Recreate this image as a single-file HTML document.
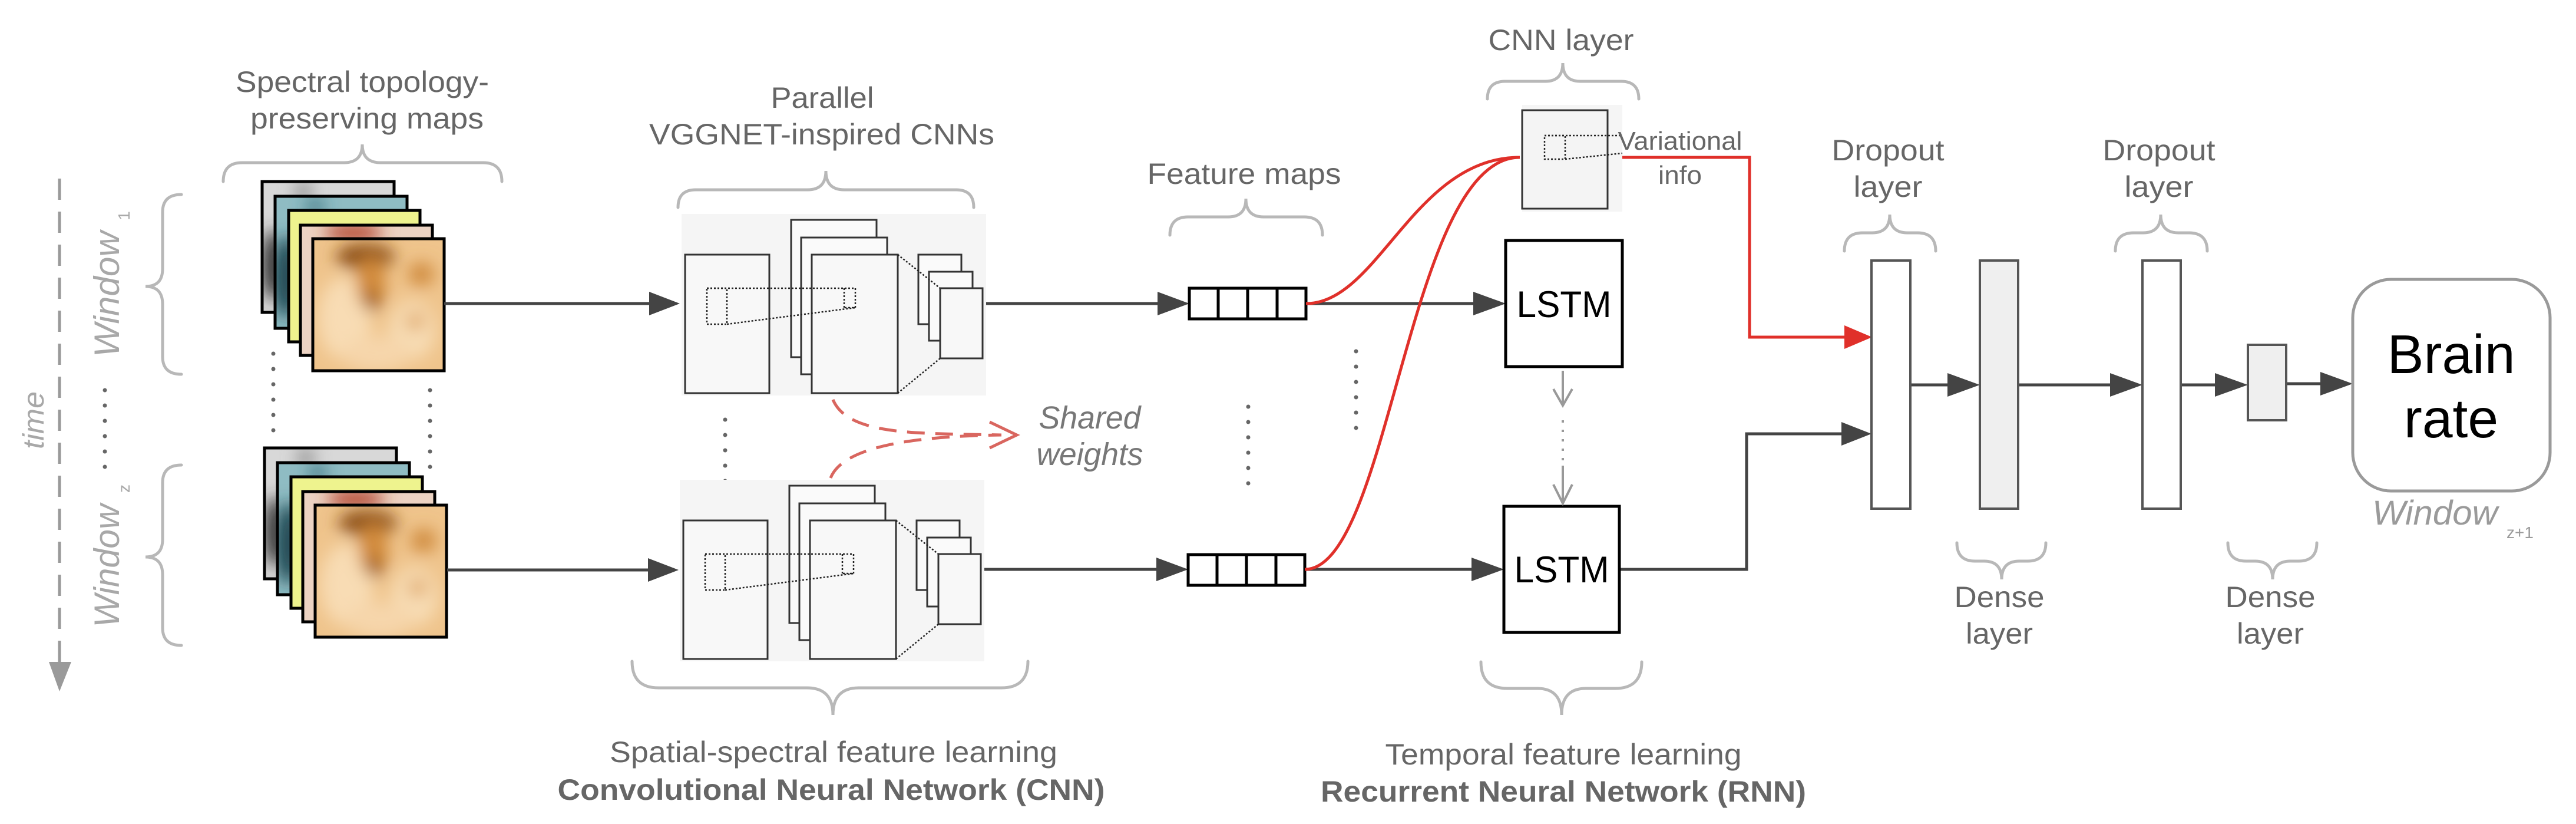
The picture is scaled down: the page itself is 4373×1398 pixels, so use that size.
<!DOCTYPE html>
<html><head><meta charset="utf-8"><style>
html,body{margin:0;padding:0;background:#fff;}
svg{display:block;}
text{font-family:"Liberation Sans",Arial,sans-serif;}
</style></head><body>
<svg width="4373" height="1398" viewBox="0 0 4373 1398" xmlns="http://www.w3.org/2000/svg">
<defs>
<filter id="bl" x="-50%" y="-50%" width="200%" height="200%"><feGaussianBlur stdDeviation="14"/></filter>
<clipPath id="cf"><rect x="531" y="405" width="223" height="224"/></clipPath>
<clipPath id="cg"><rect x="445" y="308" width="224" height="222"/></clipPath>
<clipPath id="ct"><rect x="467" y="333" width="224" height="224"/></clipPath>
<clipPath id="cp"><rect x="510" y="382" width="224" height="221"/></clipPath>
<clipPath id="cy"><rect x="490" y="357" width="223" height="223"/></clipPath>
<g id="stack">
  <rect x="445" y="308" width="224" height="222" fill="#d8d8d8"/>
  <g clip-path="url(#cg)" filter="url(#bl)"><ellipse cx="465" cy="450" rx="20" ry="60" fill="#333"/><ellipse cx="515" cy="325" rx="15" ry="15" fill="#888"/></g>
  <rect x="445" y="308" width="224" height="222" fill="none" stroke="#000" stroke-width="5"/>
  <rect x="467" y="333" width="224" height="224" fill="#8fbcc3"/>
  <g clip-path="url(#ct)" filter="url(#bl)"><ellipse cx="485" cy="470" rx="22" ry="70" fill="#1d4550"/><ellipse cx="535" cy="350" rx="15" ry="12" fill="#2e6672"/></g>
  <rect x="467" y="333" width="224" height="224" fill="none" stroke="#000" stroke-width="5"/>
  <rect x="490" y="357" width="223" height="223" fill="#eef38e" stroke="#000" stroke-width="5"/>
  <rect x="510" y="382" width="224" height="221" fill="#ecd3c3"/>
  <g clip-path="url(#cp)" filter="url(#bl)"><ellipse cx="600" cy="395" rx="50" ry="15" fill="#b0402a"/></g>
  <rect x="510" y="382" width="224" height="221" fill="none" stroke="#000" stroke-width="5"/>
  <rect x="531" y="405" width="223" height="224" fill="#efc48c"/>
  <g clip-path="url(#cf)" filter="url(#bl)">
    <ellipse cx="585" cy="540" rx="45" ry="70" fill="#f8dcb4"/>
    <ellipse cx="700" cy="560" rx="40" ry="50" fill="#f7dcb4"/>
    <ellipse cx="640" cy="600" rx="60" ry="30" fill="#f6d6ab"/>
    <ellipse cx="620" cy="435" rx="50" ry="22" fill="#8a4d12"/>
    <ellipse cx="630" cy="480" rx="25" ry="45" fill="#d28a3a"/>
    <ellipse cx="632" cy="510" rx="14" ry="18" fill="#9c5a18"/>
    <ellipse cx="715" cy="465" rx="22" ry="20" fill="#cf8a3c"/>
    <ellipse cx="705" cy="545" rx="16" ry="14" fill="#dfa461"/>
  </g>
  <rect x="531" y="405" width="223" height="224" fill="none" stroke="#000" stroke-width="5"/>
</g>
<g id="cnn">
  <rect x="1157" y="363" width="517" height="308" fill="#f5f5f5"/>
  <rect x="1163" y="432" width="143" height="235" fill="#f8f8f8" stroke="#333" stroke-width="3"/>
  <rect x="1343" y="373" width="145" height="233" fill="#fafafa" stroke="#333" stroke-width="3"/>
  <rect x="1360" y="403" width="146" height="232" fill="#fafafa" stroke="#333" stroke-width="3"/>
  <rect x="1378" y="432" width="146" height="235" fill="#f8f8f8" stroke="#333" stroke-width="3"/>
  <rect x="1559" y="432" width="73" height="118" fill="#fafafa" stroke="#333" stroke-width="3"/>
  <rect x="1577" y="461" width="74" height="117" fill="#fafafa" stroke="#333" stroke-width="3"/>
  <rect x="1596" y="489" width="72" height="119" fill="#f8f8f8" stroke="#333" stroke-width="3"/>
  <g fill="none" stroke="#222" stroke-width="2.5" stroke-dasharray="3 3">
    <rect x="1200" y="489" width="34" height="61"/>
    <path d="M1200,489 H1452 V522 H1433 M1234,550 L1452,522 M1433,489 V522"/>
    <path d="M1524,432 L1596,489 M1524,667 L1596,608"/>
  </g>
</g>
<g id="fm">
  <rect x="2019" y="489" width="198" height="52" fill="#fff" stroke="#000" stroke-width="5"/>
  <path d="M2068,489V541M2118,489V541M2168,489V541" stroke="#000" stroke-width="5"/>
</g>
</defs>

<!-- time axis -->
<line x1="101" y1="303" x2="101" y2="1125" stroke="#9a9a9a" stroke-width="5" stroke-dasharray="36 20"/>
<polygon points="83,1123 121,1123 101,1173" fill="#9a9a9a"/>
<text transform="translate(74,713) rotate(-90)" font-size="50" font-style="italic" fill="#a8a8a8" text-anchor="middle" textLength="98" lengthAdjust="spacingAndGlyphs">time</text>
<g fill="#666">
<circle cx="178" cy="662" r="3.5"/><circle cx="178" cy="688" r="3.5"/><circle cx="178" cy="714" r="3.5"/><circle cx="178" cy="740" r="3.5"/><circle cx="178" cy="766" r="3.5"/><circle cx="178" cy="792" r="3.5"/>
<circle cx="464" cy="600" r="3.5"/><circle cx="464" cy="626" r="3.5"/><circle cx="464" cy="652" r="3.5"/><circle cx="464" cy="678" r="3.5"/><circle cx="464" cy="704" r="3.5"/><circle cx="464" cy="730" r="3.5"/>
<circle cx="730" cy="662" r="3.5"/><circle cx="730" cy="688" r="3.5"/><circle cx="730" cy="714" r="3.5"/><circle cx="730" cy="740" r="3.5"/><circle cx="730" cy="766" r="3.5"/><circle cx="730" cy="792" r="3.5"/>
<circle cx="1231" cy="712" r="3.5"/><circle cx="1231" cy="738" r="3.5"/><circle cx="1231" cy="764" r="3.5"/><circle cx="1231" cy="790" r="3.5"/><circle cx="1231" cy="816" r="3.5"/><circle cx="1231" cy="842" r="3.5"/>
<circle cx="2119" cy="690" r="3.5"/><circle cx="2119" cy="716" r="3.5"/><circle cx="2119" cy="742" r="3.5"/><circle cx="2119" cy="768" r="3.5"/><circle cx="2119" cy="794" r="3.5"/><circle cx="2119" cy="820" r="3.5"/>
<circle cx="2302" cy="596" r="3.5"/><circle cx="2302" cy="622" r="3.5"/><circle cx="2302" cy="648" r="3.5"/><circle cx="2302" cy="674" r="3.5"/><circle cx="2302" cy="700" r="3.5"/><circle cx="2302" cy="726" r="3.5"/>
</g>

<!-- window labels -->
<text transform="translate(202,499) rotate(-90)" font-size="60" font-style="italic" fill="#a8a8a8" text-anchor="middle" textLength="214" lengthAdjust="spacingAndGlyphs">Window</text>
<text transform="translate(220,366) rotate(-90)" font-size="28" fill="#a8a8a8" text-anchor="middle">1</text>
<text transform="translate(202,960) rotate(-90)" font-size="60" font-style="italic" fill="#a8a8a8" text-anchor="middle" textLength="209" lengthAdjust="spacingAndGlyphs">Window</text>
<text transform="translate(220,829) rotate(-90)" font-size="28" fill="#a8a8a8" text-anchor="middle">z</text>

<!-- braces -->
<g fill="none" stroke="#b8b8b8" stroke-width="5" stroke-linecap="round">
<path d="M308,330 Q276,330 276,360 L276,456 Q276,486 247,486 Q276,486 276,516 L276,605 Q276,635 308,635"/>
<path d="M308,789 Q276,789 276,819 L276,915 Q276,945 247,945 Q276,945 276,975 L276,1065 Q276,1095 308,1095"/>
<path d="M379,308 Q379,276 411,276 L584,276 Q615,276 615,245 Q615,276 646,276 L820,276 Q852,276 852,308"/>
<path d="M1151,352 Q1151,322 1181,322 L1371,322 Q1402,322 1402,290 Q1402,322 1433,322 L1623,322 Q1653,322 1653,352"/>
<path d="M1073,1122 Q1073,1167 1118,1167 L1370,1167 Q1414,1167 1414,1213 Q1414,1167 1458,1167 L1700,1167 Q1745,1167 1745,1122"/>
<path d="M1986,399 Q1986,368 2017,368 L2085,368 Q2115,368 2115,337 Q2115,368 2145,368 L2214,368 Q2245,368 2245,399"/>
<path d="M2525,168 Q2525,138 2555,138 L2623,138 Q2653,138 2653,107 Q2653,138 2683,138 L2752,138 Q2782,138 2782,168"/>
<path d="M2514,1123 Q2514,1168 2559,1168 L2610,1168 Q2651,1168 2651,1213 Q2651,1168 2692,1168 L2742,1168 Q2787,1168 2787,1123"/>
<path d="M3131,426 Q3131,395 3162,395 L3178,395 Q3208,395 3208,364 Q3208,395 3238,395 L3255,395 Q3286,395 3286,426"/>
<path d="M3591,426 Q3591,395 3622,395 L3638,395 Q3668,395 3668,364 Q3668,395 3698,395 L3716,395 Q3747,395 3747,426"/>
<path d="M3322,921 Q3322,952 3353,952 L3368,952 Q3398,952 3398,983 Q3398,952 3428,952 L3442,952 Q3473,952 3473,921"/>
<path d="M3782,921 Q3782,952 3813,952 L3828,952 Q3858,952 3858,983 Q3858,952 3888,952 L3902,952 Q3933,952 3933,921"/>
</g>

<!-- stacks -->
<use href="#stack"/>
<use href="#stack" transform="translate(4,452)"/>

<!-- cnn blocks -->
<use href="#cnn"/>
<use href="#cnn" transform="translate(-3,451)"/>

<!-- dark connectors -->
<g stroke="#444" stroke-width="5" fill="none">
<path d="M754,515 H1105"/>
<path d="M759,967 H1102"/>
<path d="M1674,515 H1967"/>
<path d="M1671,966 H1965"/>
<path d="M2217,515 H2503"/>
<path d="M2215,966 H2500"/>
<path d="M2749,966 H2965 V736 H3128"/>
<path d="M3243,653 H3308"/>
<path d="M3426,653 H3584"/>
<path d="M3702,653 H3762"/>
<path d="M3881,651 H3941"/>
</g>
<g fill="#444">
<polygon points="1102,495 1154,515 1102,535"/>
<polygon points="1100,947 1152,967 1100,987"/>
<polygon points="1965,495 2019,515 1965,535"/>
<polygon points="1963,946 2017,966 1963,986"/>
<polygon points="2501,495 2556,515 2501,535"/>
<polygon points="2498,946 2553,966 2498,986"/>
<polygon points="3126,716 3177,736 3126,756"/>
<polygon points="3306,633 3361,653 3306,673"/>
<polygon points="3582,633 3637,653 3582,673"/>
<polygon points="3760,633 3816,653 3760,673"/>
<polygon points="3939,631 3994,651 3939,671"/>
</g>

<!-- feature maps -->
<use href="#fm"/>
<use href="#fm" transform="translate(-2,452)"/>

<!-- shared weights -->
<g fill="none" stroke="#d9665f" stroke-width="5">
<path d="M1414,678 C1440,740 1560,735 1700,738" stroke-dasharray="30 18"/>
<path d="M1410,811 C1430,760 1540,740 1700,738" stroke-dasharray="30 18"/>
<path d="M1680,716 L1726,738 L1680,760"/>
</g>
<text x="1850" y="727" font-size="54" font-style="italic" fill="#777" text-anchor="middle" textLength="173" lengthAdjust="spacingAndGlyphs">Shared</text>
<text x="1850" y="789" font-size="54" font-style="italic" fill="#777" text-anchor="middle" textLength="181" lengthAdjust="spacingAndGlyphs">weights</text>

<!-- CNN layer box -->
<rect x="2584" y="178" width="170" height="181" fill="#f5f5f5"/>
<rect x="2584" y="187" width="145" height="167" fill="#f4f4f4" stroke="#333" stroke-width="3"/>
<g fill="none" stroke="#222" stroke-width="2.5" stroke-dasharray="3 3">
<rect x="2622" y="230" width="35" height="40"/>
<path d="M2622,230 H2754 M2657,270 L2754,260"/>
</g>

<!-- red connectors -->
<g fill="none" stroke="#e0302a" stroke-width="5">
<path d="M2217,515 C2340,515 2400,267 2580,267"/>
<path d="M2215,966 C2360,966 2390,267 2580,267"/>
<path d="M2754,267 H2970 V572 H3133"/>
</g>
<polygon points="3131,552 3178,572 3131,592" fill="#e0302a"/>

<!-- LSTM -->
<rect x="2556" y="408" width="198" height="214" fill="#fff" stroke="#000" stroke-width="5"/>
<rect x="2553" y="859" width="196" height="214" fill="#fff" stroke="#000" stroke-width="5"/>
<text x="2655" y="538" font-size="63" fill="#000" text-anchor="middle" textLength="161" lengthAdjust="spacingAndGlyphs">LSTM</text>
<text x="2651" y="988" font-size="63" fill="#000" text-anchor="middle" textLength="161" lengthAdjust="spacingAndGlyphs">LSTM</text>
<g stroke="#999" stroke-width="4" fill="none">
<path d="M2653,629 V685"/>
<path d="M2637,660 L2653,688 L2669,660"/>
<path d="M2653,713 V790" stroke-dasharray="4 12"/>
<path d="M2653,790 V852"/>
<path d="M2637,822 L2653,854 L2669,822"/>
</g>

<!-- dense layers -->
<g stroke="#555" stroke-width="4">
<rect x="3177" y="442" width="66" height="421" fill="#fff"/>
<rect x="3361" y="442" width="65" height="421" fill="#efefef"/>
<rect x="3637" y="442" width="65" height="421" fill="#fff"/>
<rect x="3816" y="585" width="65" height="128" fill="#efefef"/>
</g>

<!-- brain rate -->
<rect x="3994" y="474" width="335" height="359" rx="65" fill="#fff" stroke="#9a9a9a" stroke-width="5"/>
<text x="4161" y="633" font-size="93" fill="#000" text-anchor="middle">Brain</text>
<text x="4161" y="742" font-size="93" fill="#000" text-anchor="middle">rate</text>
<text x="4027" y="890" font-size="58" font-style="italic" fill="#9a9a9a" textLength="213" lengthAdjust="spacingAndGlyphs">Window</text>
<text x="4255" y="913" font-size="28" fill="#9a9a9a">z+1</text>

<!-- labels -->
<g fill="#666" font-size="50" text-anchor="middle">
<text x="615" y="156" textLength="430" lengthAdjust="spacingAndGlyphs">Spectral topology-</text>
<text x="623" y="218" textLength="396" lengthAdjust="spacingAndGlyphs">preserving maps</text>
<text x="1396" y="183" textLength="175" lengthAdjust="spacingAndGlyphs">Parallel</text>
<text x="1395" y="245" textLength="586" lengthAdjust="spacingAndGlyphs">VGGNET-inspired CNNs</text>
<text x="2112" y="312" textLength="329" lengthAdjust="spacingAndGlyphs">Feature maps</text>
<text x="2650" y="85" textLength="247" lengthAdjust="spacingAndGlyphs">CNN layer</text>
<text x="2852" y="254" font-size="44" textLength="211" lengthAdjust="spacingAndGlyphs">Variational</text>
<text x="2852" y="312" font-size="44" textLength="74" lengthAdjust="spacingAndGlyphs">info</text>
<text x="3205" y="272" textLength="191" lengthAdjust="spacingAndGlyphs">Dropout</text>
<text x="3205" y="334" textLength="117" lengthAdjust="spacingAndGlyphs">layer</text>
<text x="3665" y="272" textLength="191" lengthAdjust="spacingAndGlyphs">Dropout</text>
<text x="3665" y="334" textLength="117" lengthAdjust="spacingAndGlyphs">layer</text>
<text x="3394" y="1030" textLength="153" lengthAdjust="spacingAndGlyphs">Dense</text>
<text x="3394" y="1092" textLength="114" lengthAdjust="spacingAndGlyphs">layer</text>
<text x="3854" y="1030" textLength="153" lengthAdjust="spacingAndGlyphs">Dense</text>
<text x="3854" y="1092" textLength="114" lengthAdjust="spacingAndGlyphs">layer</text>
<text x="1415" y="1293" textLength="760" lengthAdjust="spacingAndGlyphs">Spatial-spectral feature learning</text>
<text x="1411" y="1357" font-weight="bold" textLength="929" lengthAdjust="spacingAndGlyphs">Convolutional Neural Network (CNN)</text>
<text x="2654" y="1297" textLength="605" lengthAdjust="spacingAndGlyphs">Temporal feature learning</text>
<text x="2654" y="1360" font-weight="bold" textLength="824" lengthAdjust="spacingAndGlyphs">Recurrent Neural Network (RNN)</text>
</g>
</svg>
</body></html>
